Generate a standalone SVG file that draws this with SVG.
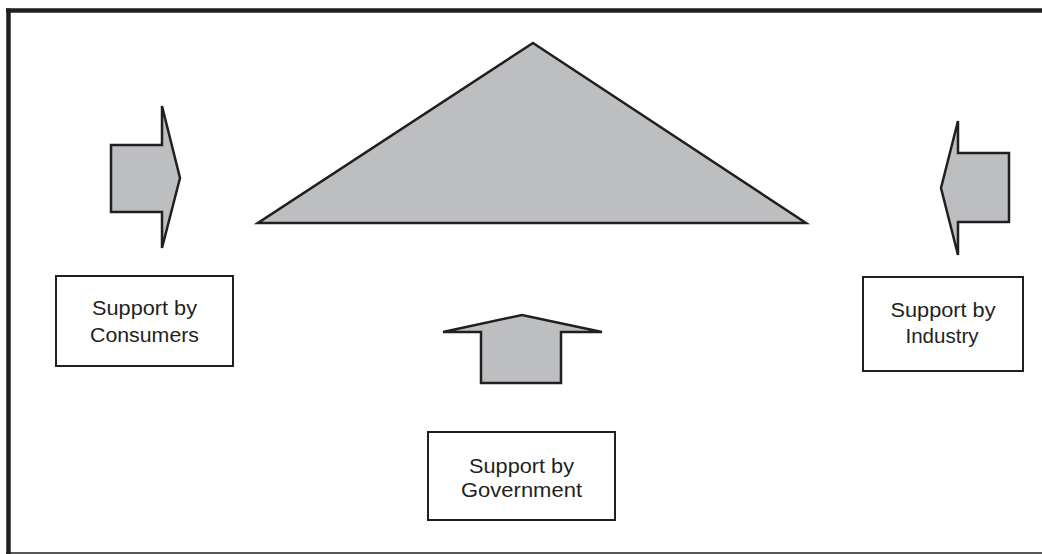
<svg xmlns="http://www.w3.org/2000/svg" width="1042" height="554" viewBox="0 0 1042 554">
<style>
.frame{fill:none;stroke:#231f20;stroke-linecap:butt}
.shape{fill:#bcbec0;stroke:#231f20;stroke-width:2.5;stroke-linejoin:miter}
.box{fill:#ffffff;stroke:#231f20;stroke-width:2}
.lbl{font-family:"Liberation Sans",Arial,sans-serif;font-size:20px;fill:#231f20;text-anchor:middle}
</style>
<rect width="1042" height="554" fill="#ffffff"/>
<g id="frame">
<line class="frame" x1="6" y1="10.5" x2="1042" y2="10.5" stroke-width="4.5"/>
<line class="frame" x1="8.5" y1="8.5" x2="8.5" y2="554" stroke-width="4.5"/>
<line class="frame" x1="6" y1="553" x2="1042" y2="553" stroke-width="1.5"/>
</g>
<g id="triangle">
<polygon class="shape" points="533,43 806,223 258,223"/>
</g>
<g id="connectors">
<polygon id="arrow-consumers" class="shape" points="111,145 162,145 162,106 180,178 162,248 162,212 111,212"/>
<polygon id="arrow-industry" class="shape" points="1009,153 958,153 958,121 941,188 958,255 958,222 1009,222"/>
<polygon id="arrow-government" class="shape" points="443,332 522,315 602,332 561,332 561,383 481,383 481,332"/>
</g>
<g id="consumers">
<rect class="box" x="56" y="276" width="177" height="90"/>
<text class="lbl" x="144.5" y="315" textLength="105" lengthAdjust="spacingAndGlyphs">Support by</text>
<text class="lbl" x="144.5" y="342" textLength="109" lengthAdjust="spacingAndGlyphs">Consumers</text>
</g>
<g id="industry">
<rect class="box" x="863" y="277" width="160" height="94"/>
<text class="lbl" x="943" y="317" textLength="105" lengthAdjust="spacingAndGlyphs">Support by</text>
<text class="lbl" x="942" y="343" textLength="73" lengthAdjust="spacingAndGlyphs">Industry</text>
</g>
<g id="government">
<rect class="box" x="428" y="432" width="187" height="88"/>
<text class="lbl" x="521.5" y="473" textLength="105" lengthAdjust="spacingAndGlyphs">Support by</text>
<text class="lbl" x="521.5" y="497" textLength="121" lengthAdjust="spacingAndGlyphs">Government</text>
</g>
</svg>
